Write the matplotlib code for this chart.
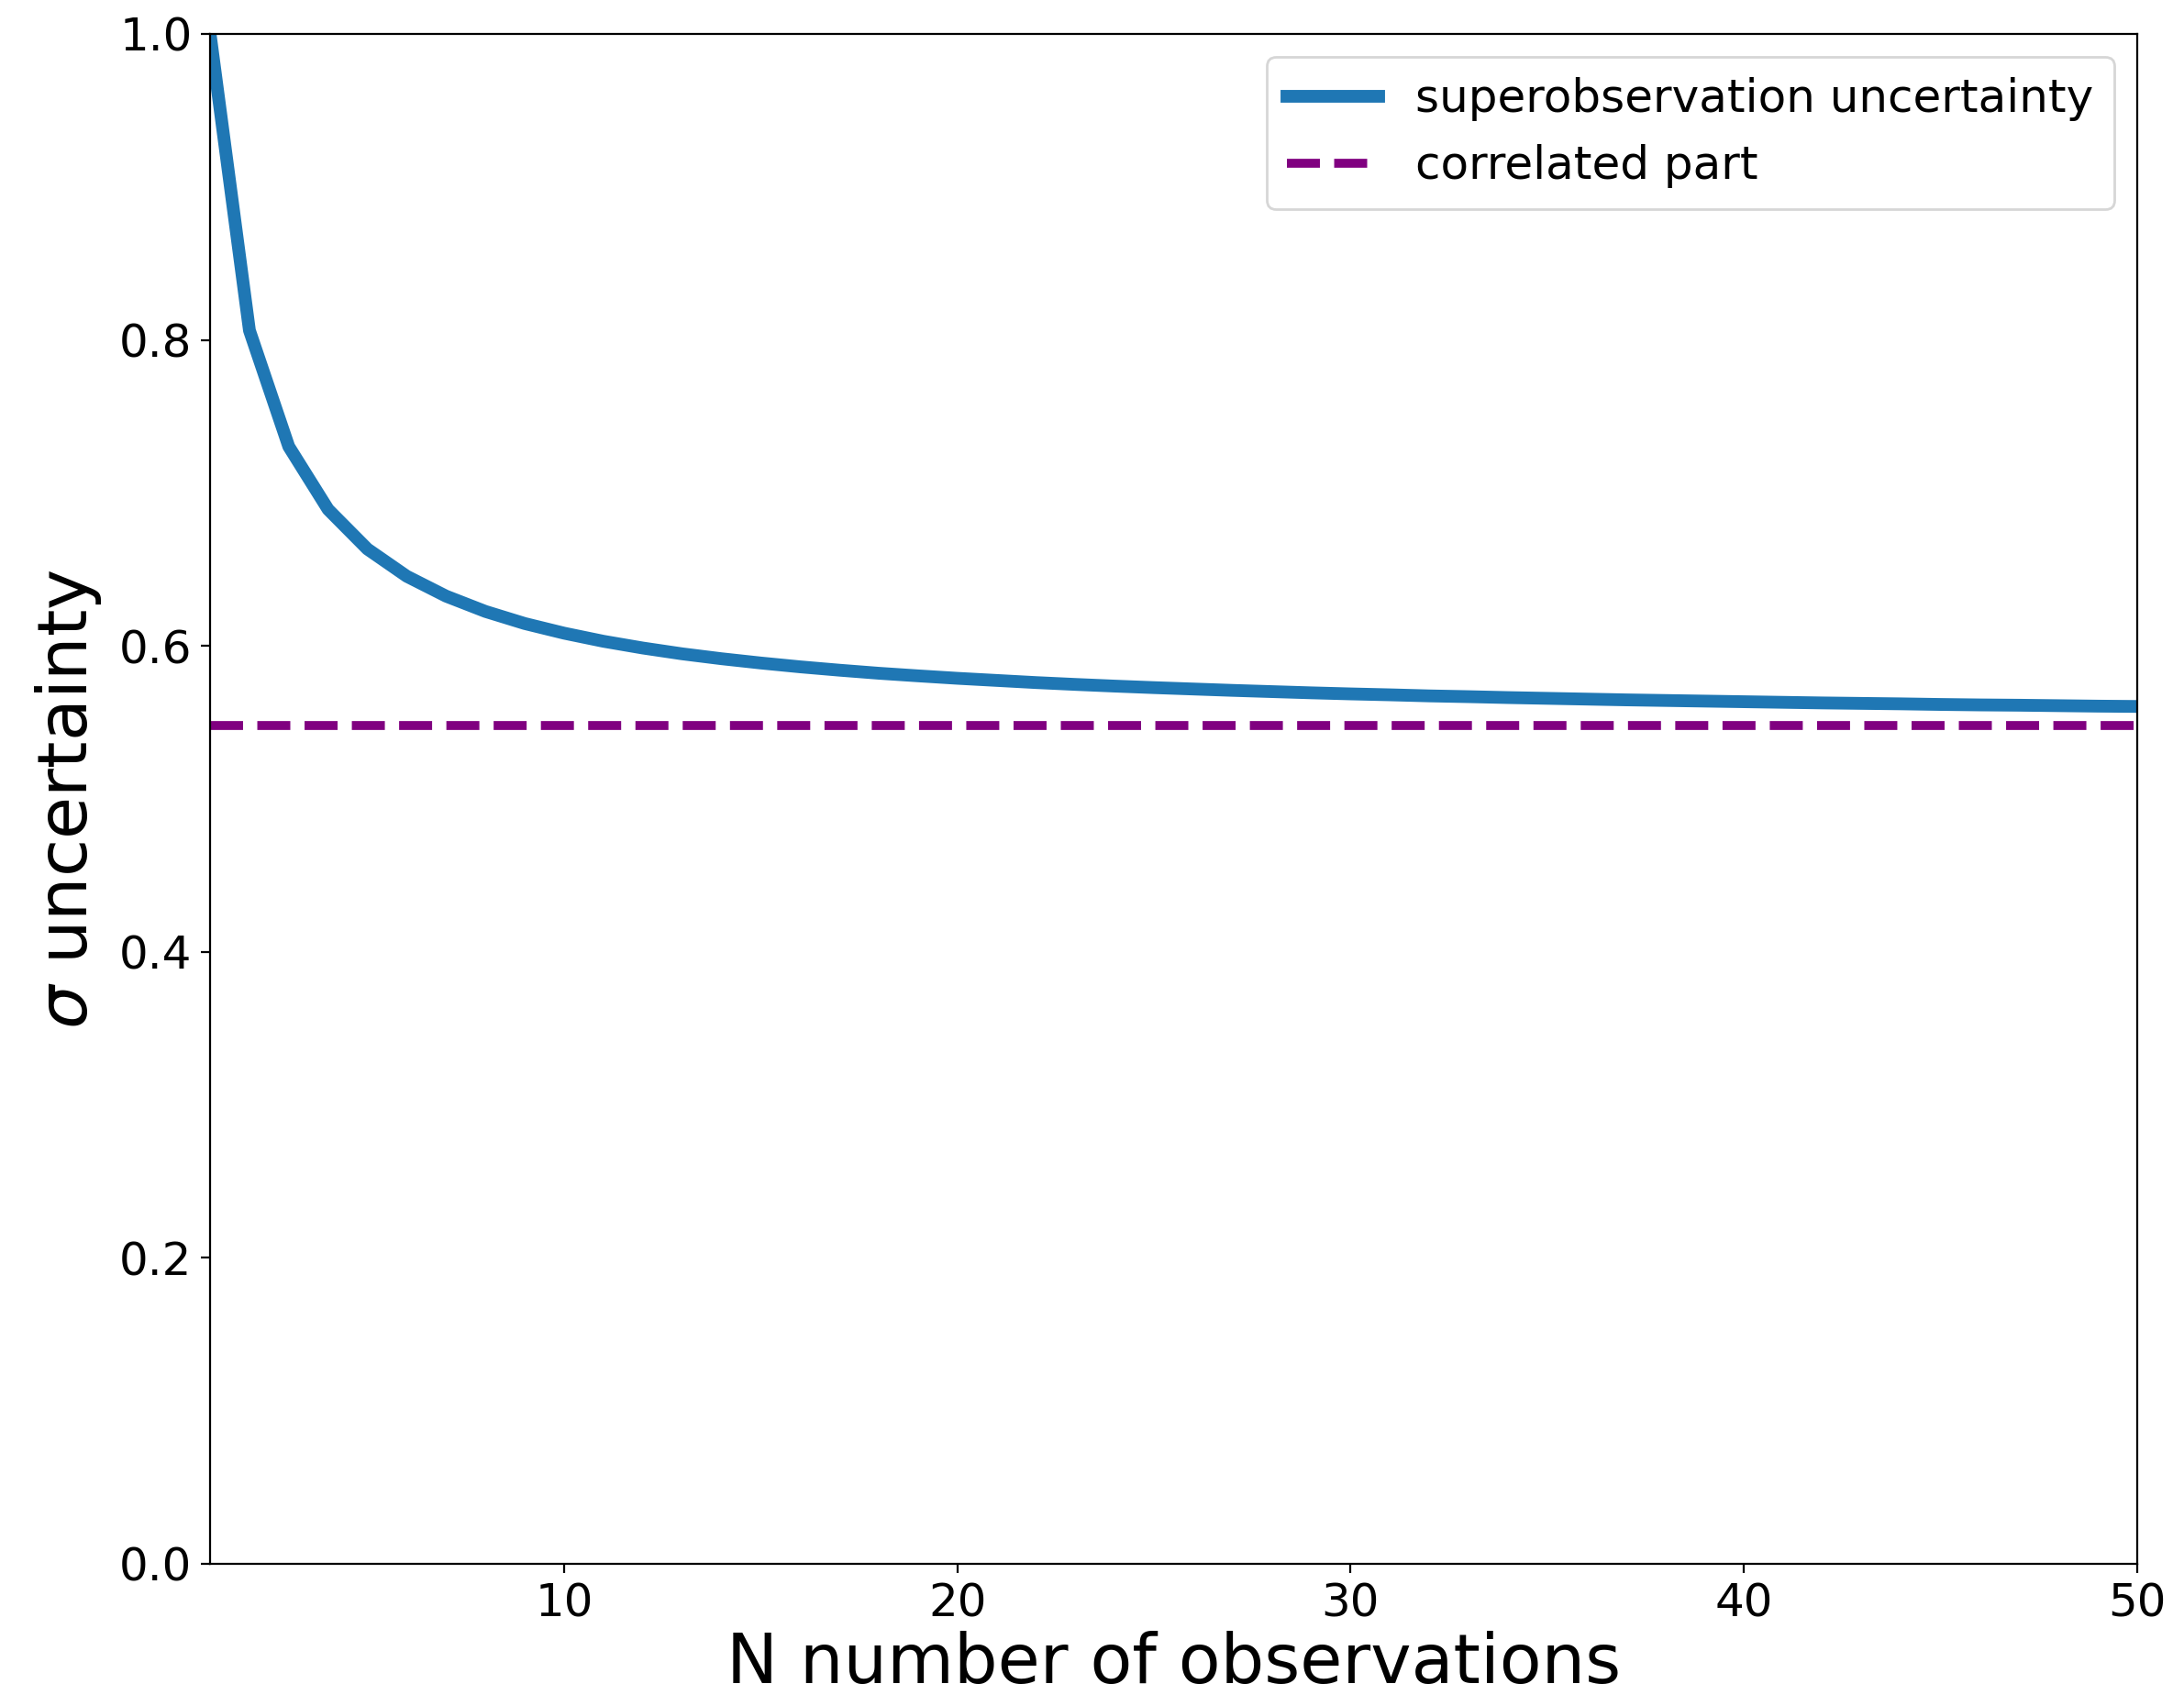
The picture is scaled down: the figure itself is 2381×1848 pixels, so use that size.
import matplotlib
matplotlib.use("Agg")
import matplotlib.pyplot as plt

# number of observations in the superobservation
n_obs = list(range(1, 51))

# total superobservation uncertainty for each N
sigma_super = [
    1.0000, 0.8062, 0.7303, 0.6892, 0.6633, 0.6455, 0.6325, 0.6225, 0.6146, 0.6083,
    0.6030, 0.5986, 0.5948, 0.5916, 0.5888, 0.5863, 0.5841, 0.5821, 0.5804, 0.5788,
    0.5774, 0.5760, 0.5748, 0.5737, 0.5727, 0.5718, 0.5709, 0.5701, 0.5693, 0.5686,
    0.5680, 0.5673, 0.5668, 0.5662, 0.5657, 0.5652, 0.5647, 0.5643, 0.5639, 0.5635,
    0.5631, 0.5627, 0.5624, 0.5621, 0.5617, 0.5614, 0.5612, 0.5609, 0.5606, 0.5604,
]

# correlated (irreducible) part of the error
sigma_corr = 0.5477

fig = plt.figure(figsize=(11.905, 9.24), dpi=200)
ax = fig.add_axes([0.0962, 0.0774, 0.8824, 0.9026])

ax.plot(n_obs, sigma_super, lw=5, color="#1f77b4", label="superobservation uncertainty")
ax.axhline(sigma_corr, ls="--", lw=3.5, color="purple", label="correlated part")

ax.set_xlim(1, 50)
ax.set_ylim(0.0, 1.0)
ax.set_xticks([10, 20, 30, 40, 50])
ax.set_yticks([0.0, 0.2, 0.4, 0.6, 0.8, 1.0])
ax.tick_params(labelsize=18)
ax.set_xlabel("N number of observations", fontsize=27, labelpad=2)
ax.set_ylabel(r"$\sigma$ uncertainty", fontsize=27, labelpad=6)
ax.legend(loc="upper right", fontsize=18, borderpad=0.45)

fig.savefig("out.png", dpi=200)
